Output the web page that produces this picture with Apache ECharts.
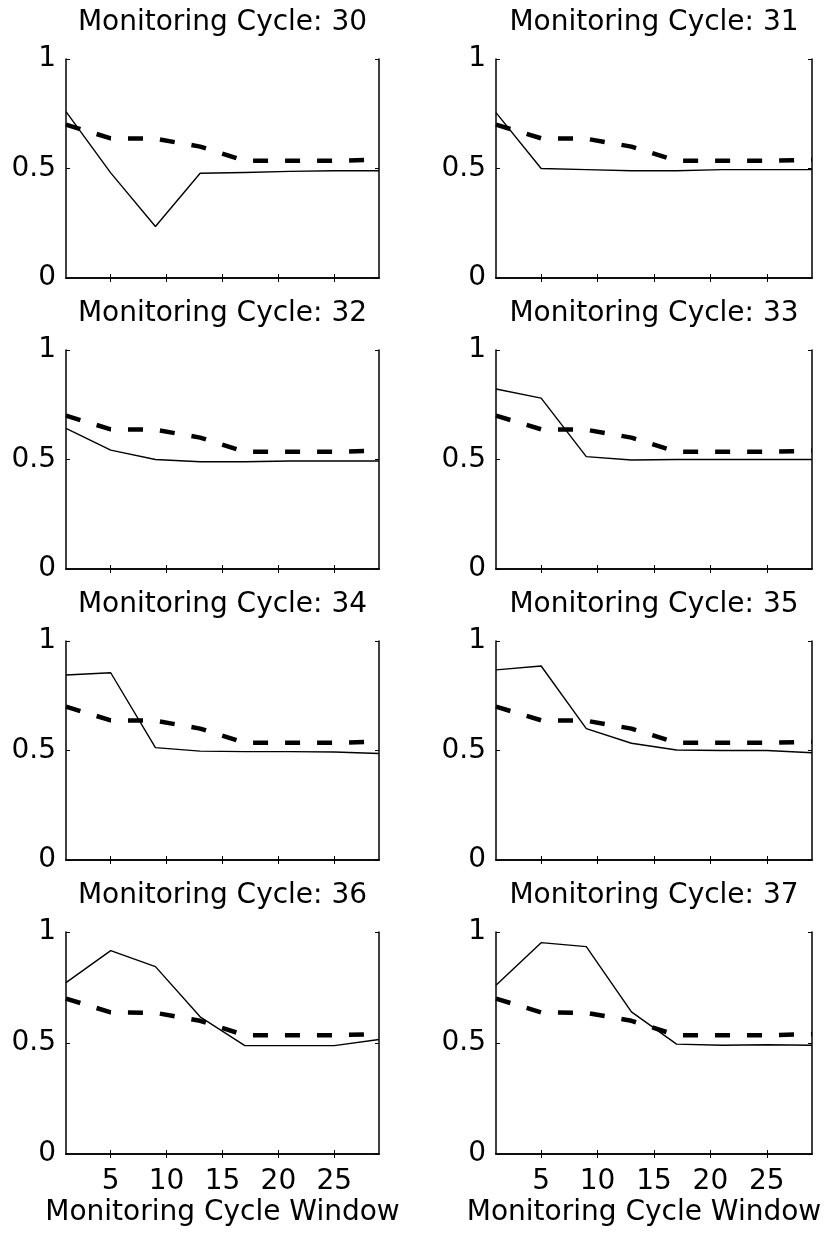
<!DOCTYPE html>
<html><head><meta charset="utf-8">
<script src="https://cdn.jsdelivr.net/npm/echarts@6/dist/echarts.min.js"></script>
<style>html,body{margin:0;padding:0;background:#fff}#c{width:834px;height:1239px}</style>
</head><body><div id="c"></div>
<script>
// ---- data ----
const windows = [1, 5, 9, 13, 17, 21, 25, 29];
const cycles = [30, 31, 32, 33, 34, 35, 36, 37];
const cycle30 = [0.76, 0.48, 0.235, 0.478, 0.482, 0.487, 0.49, 0.49];
const cycle31 = [0.755, 0.50, 0.495, 0.49, 0.49, 0.495, 0.495, 0.495];
const cycle32 = [0.642, 0.543, 0.50, 0.49, 0.49, 0.493, 0.493, 0.493];
const cycle33 = [0.822, 0.78, 0.513, 0.498, 0.50, 0.50, 0.50, 0.50];
const cycle34 = [0.845, 0.855, 0.513, 0.497, 0.495, 0.495, 0.493, 0.486];
const cycle35 = [0.868, 0.886, 0.60, 0.533, 0.502, 0.50, 0.50, 0.49];
const cycle36 = [0.772, 0.916, 0.844, 0.618, 0.488, 0.488, 0.488, 0.516];
const cycle37 = [0.76, 0.952, 0.934, 0.64, 0.495, 0.49, 0.492, 0.49];
const reference = [0.70, 0.638, 0.636, 0.60, 0.535, 0.535, 0.535, 0.54];
const xTickValues = [5, 10, 15, 20, 25];
const xAxisTitle = 'Monitoring Cycle Window';
const titlePrefix = 'Monitoring Cycle: ';

const panels = [cycle30, cycle31, cycle32, cycle33, cycle34, cycle35, cycle36, cycle37];

// ---- layout ----
const FONT = 'DejaVu Sans';
const FS = 28;
const colLeft = [66, 496];
const colWidth = [313, 316];
const rowTop = [59, 350, 641, 932];
const rowHeight = [219, 219, 219, 222];

const grid = [], xAxis = [], yAxis = [], series = [], graphic = [];
panels.forEach((vals, i) => {
  const r = Math.floor(i / 2), c = i % 2;
  const left = colLeft[c], top = rowTop[r], w = colWidth[c], h = rowHeight[r];
  grid.push({left: left, top: top, width: w, height: h, containLabel: false});
  const bottomRow = r === 3;
  const line = {show: true, lineStyle: {color: '#000', width: 1.5}};
  const xt = {show: true, inside: true, length: 4, lineStyle: {color: '#000', width: 1}, customValues: xTickValues};
  xAxis.push({
    type: 'value', gridIndex: i, min: 1, max: 29, position: 'bottom',
    axisLine: line, axisTick: xt, splitLine: {show: false},
    axisLabel: {show: bottomRow, customValues: xTickValues, color: '#000', fontFamily: FONT, fontSize: FS, margin: 14},
    name: bottomRow ? xAxisTitle : '', nameLocation: 'middle', nameGap: 45,
    nameTextStyle: {color: '#000', fontFamily: FONT, fontSize: FS, padding: c === 1 ? [0, 20, 0, 0] : 0}
  });
  xAxis.push({
    type: 'value', gridIndex: i, min: 1, max: 29, position: 'top',
    axisLine: line, axisTick: xt, splitLine: {show: false}, axisLabel: {show: false}
  });
  const yt = {show: true, inside: true, length: 4, lineStyle: {color: '#000', width: 1}};
  yAxis.push({
    type: 'value', gridIndex: i, min: 0, max: 1, interval: 0.5, position: 'left',
    axisLine: line, axisTick: yt, splitLine: {show: false},
    axisLabel: {color: '#000', fontFamily: FONT, fontSize: FS, margin: 10}
  });
  yAxis.push({
    type: 'value', gridIndex: i, min: 0, max: 1, interval: 0.5, position: 'right',
    axisLine: line, axisTick: yt, splitLine: {show: false}, axisLabel: {show: false}
  });
  series.push({
    type: 'line', xAxisIndex: 2 * i, yAxisIndex: 2 * i,
    data: windows.map((x, k) => [x, vals[k]]),
    symbol: 'none', lineStyle: {color: '#000', width: 1.4}, z: 3
  });
  series.push({
    type: 'line', xAxisIndex: 2 * i, yAxisIndex: 2 * i,
    data: windows.map((x, k) => [x, reference[k]]),
    symbol: 'none', lineStyle: {color: '#000', width: 4.5, type: [15, 17], cap: 'butt'}, z: 2
  });
  graphic.push({
    type: 'text', x: left + w / 2, y: top - 36,
    style: {text: titlePrefix + cycles[i], fill: '#000', font: FS + 'px "' + FONT + '"', textAlign: 'center', textVerticalAlign: 'middle'}
  });
});

const chart = echarts.init(document.getElementById('c'), null, {renderer: 'canvas'});
chart.setOption({
  backgroundColor: '#fff', animation: false,
  grid, xAxis, yAxis, series, graphic
});
</script>
</body></html>
